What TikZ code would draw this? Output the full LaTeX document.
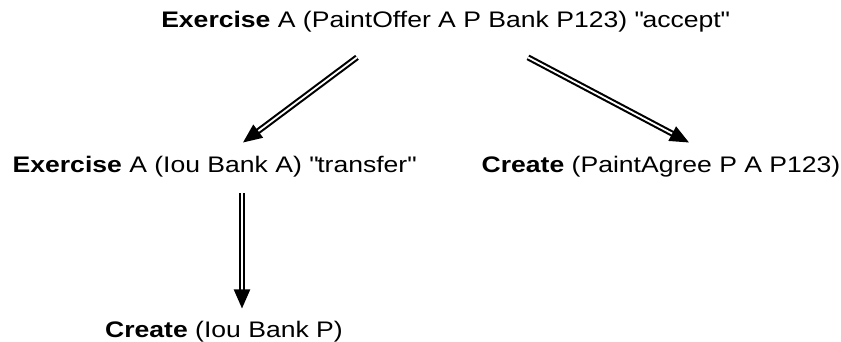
\documentclass[tikz,border=0pt]{standalone}
\usepackage{fontspec}
\setmainfont{Liberation Sans}[FakeStretch=1.18]
\usepackage{tikz}
\usetikzlibrary{arrows.meta}

\begin{document}
\begin{tikzpicture}[
  x=1pt, y=1pt,
  act/.style={inner sep=0pt, anchor=base, font=\fontsize{22.5}{25}\selectfont},
  dbl/.style={double, line width=2.1pt, double distance=1.8pt,
    -{Triangle[length=19pt, width=16pt]}},
]
\useasboundingbox (0,0) rectangle (841,-342);

\node[act] (offer) at (445,-28) {\textbf{Exercise} A (PaintOffer A P Bank P123) \textquotedbl accept\textquotedbl};
\node[act] (iou) at (214,-172) {\textbf{Exercise} A (Iou Bank A) \textquotedbl transfer\textquotedbl};
\node[act] (agree) at (661,-172) {\textbf{Create} (PaintAgree P A P123)};
\node[act] (iounew) at (224,-337) {\textbf{Create} (Iou Bank P)};

\draw[dbl] ([shift={(-88,-24.5)}]offer.south) -- ([shift={(29,13)}]iou.north);
\draw[dbl] ([shift={(83,-24.5)}]offer.south) -- ([shift={(28,13)}]agree.north);
\draw[dbl] ([shift={(28,-16.5)}]iou.south) -- ([shift={(18,12)}]iounew.north);
\end{tikzpicture}
\end{document}
